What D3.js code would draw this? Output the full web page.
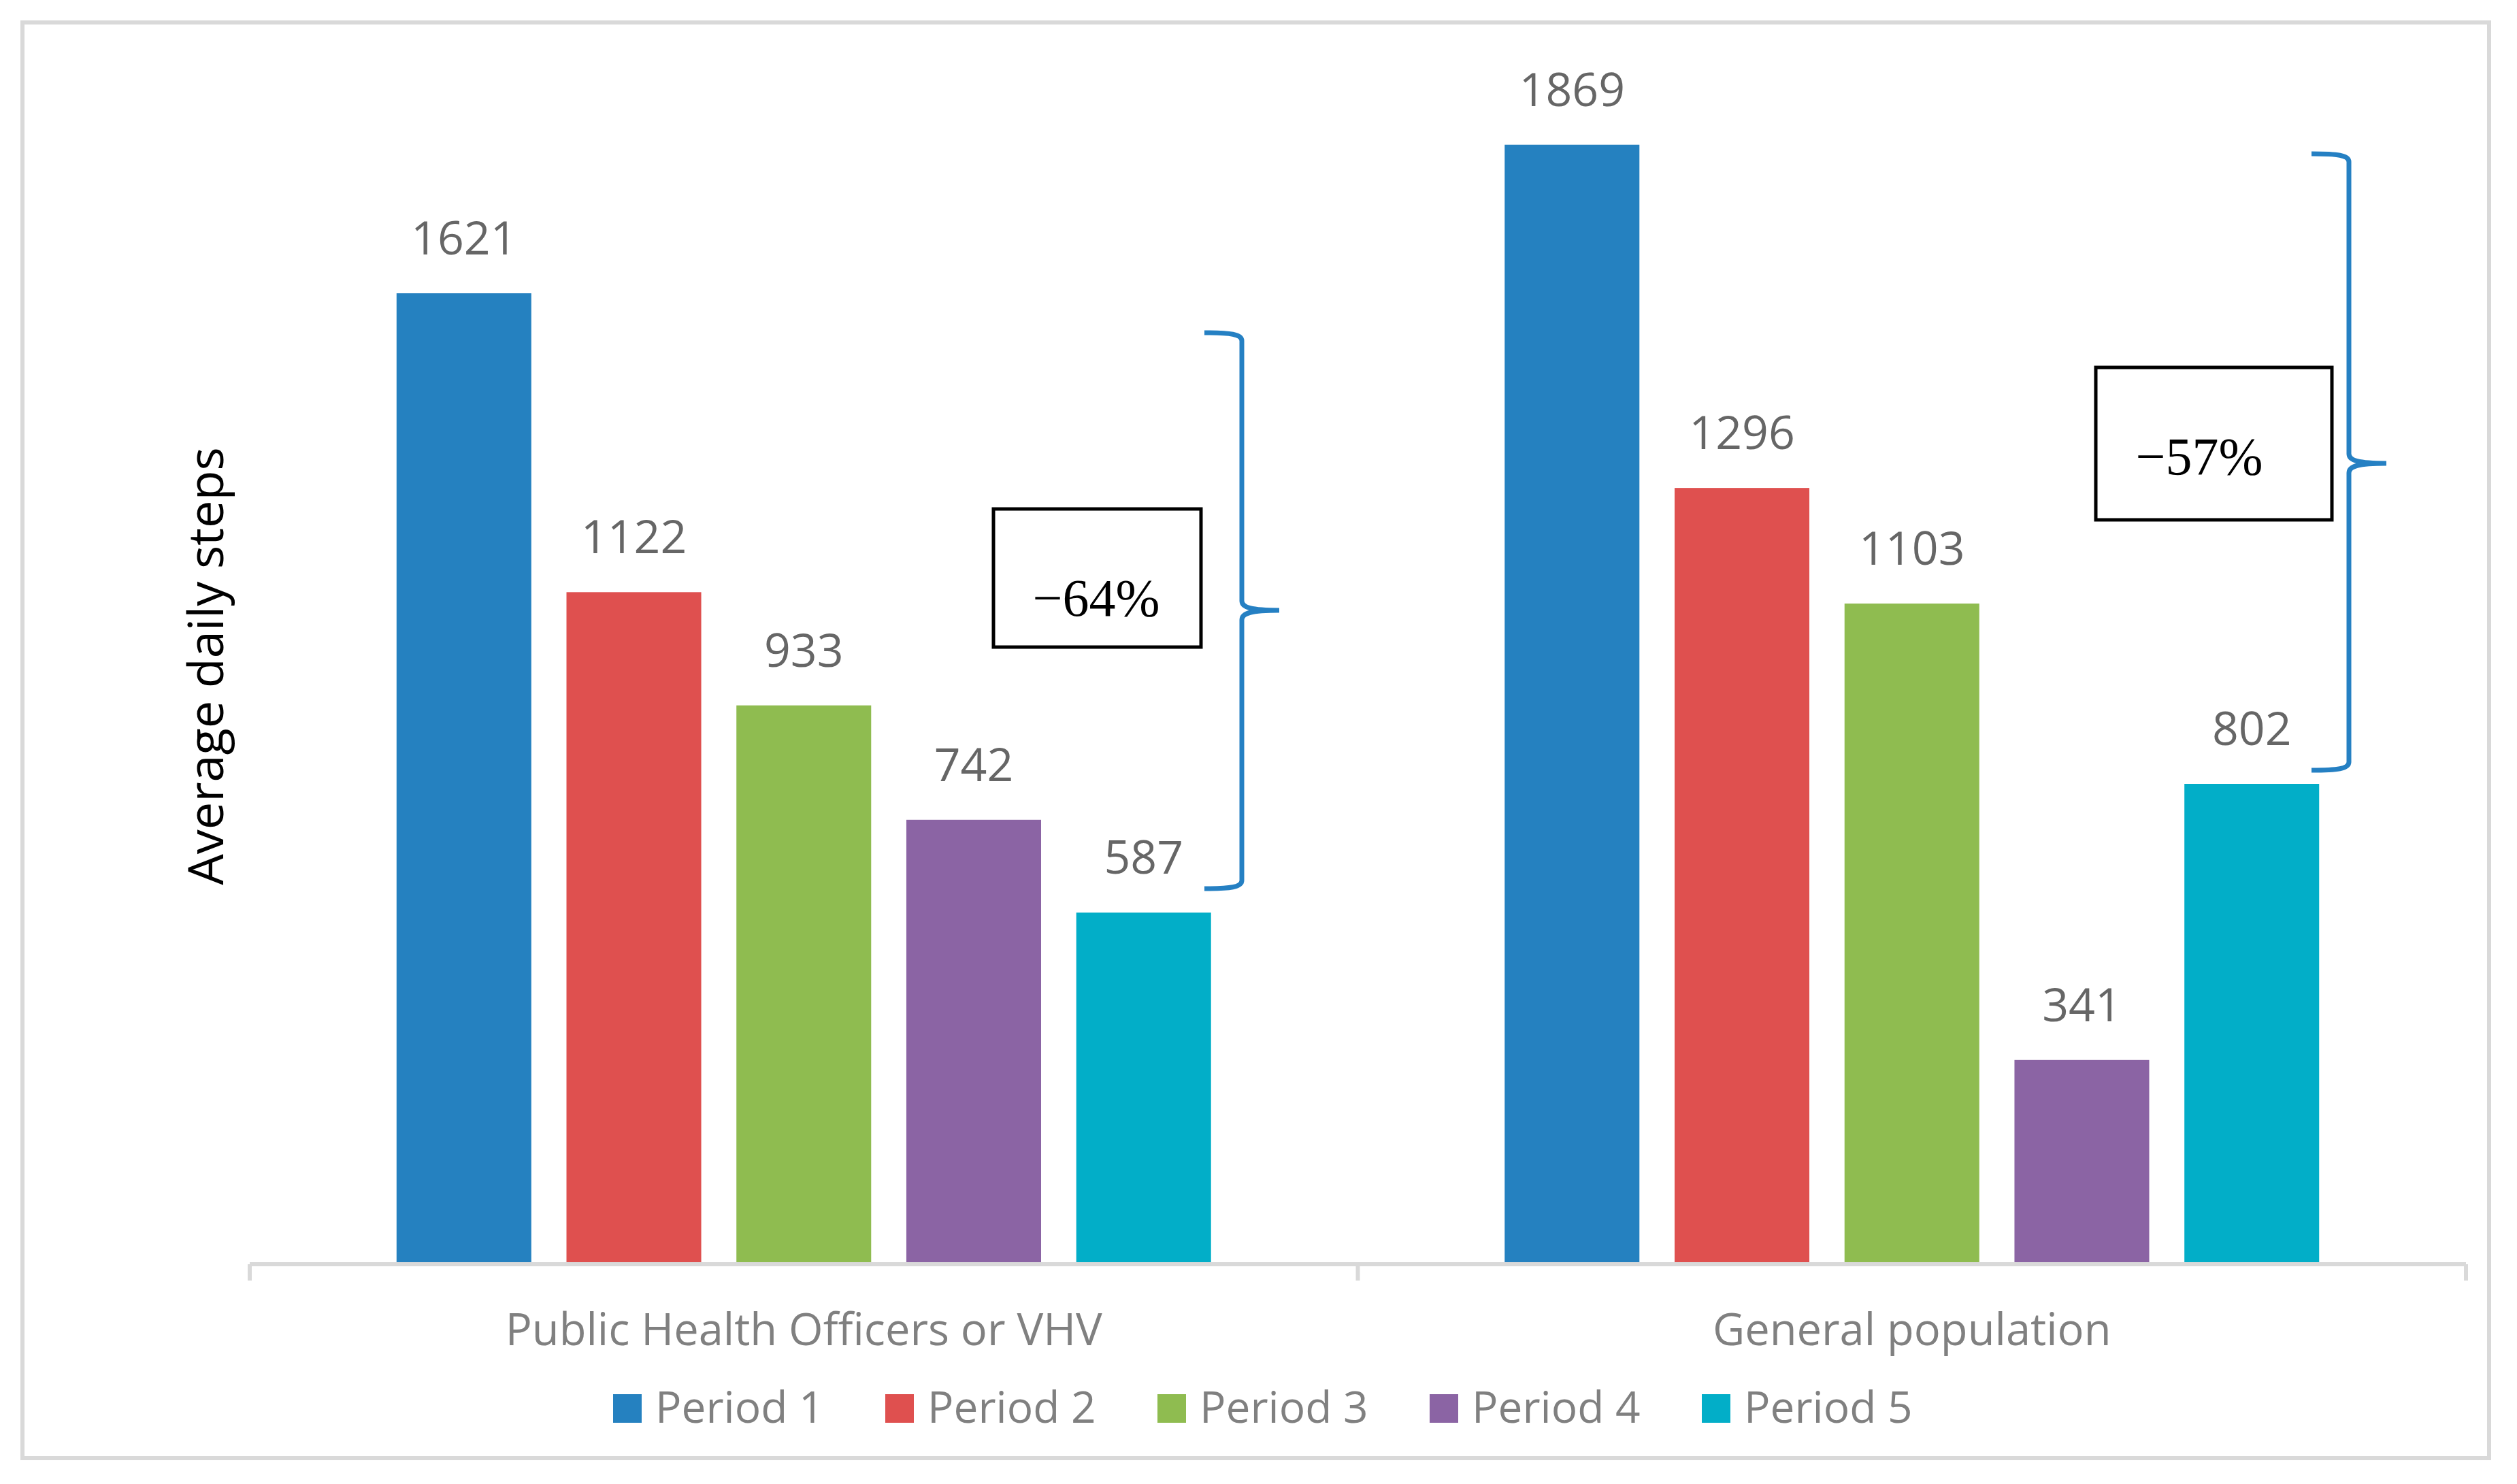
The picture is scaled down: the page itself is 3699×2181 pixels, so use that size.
<!DOCTYPE html>
<html>
<head>
<meta charset="utf-8">
<script src="https://cdn.jsdelivr.net/npm/d3@7"></script>
<style>
  html, body { margin: 0; padding: 0; background: #fff; }
  svg { display: block; }
</style>
</head>
<body>
<div id="vis"></div>
<script>
// data
const groups = ["Public Health Officers or VHV", "General population"]
const periods = ["Period 1", "Period 2", "Period 3", "Period 4", "Period 5"]
const healthOfficers = [1621, 1122, 933, 742, 587]
const generalPop = [1869, 1296, 1103, 341, 802]
const changeLabels = ["\u221264%", "\u221257%"]
const colors = ["#2581c0", "#df504f", "#8fbc50", "#8b64a4", "#02aec8"]

const W = 3699, H = 2181

let svg = d3.select("#vis").append("svg")
    .attr("width", W)
    .attr("height", H)
    .attr("viewBox", `0 0 ${W} ${H}`)

// outer frame
svg.append("rect")
    .attr("x", 33).attr("y", 33)
    .attr("width", 3625).attr("height", 2110)
    .attr("fill", "#fff")
    .attr("stroke", "#d9d9d9")
    .attr("stroke-width", 6)

let x = d3.scaleBand().domain(groups).range([367, 3624])
let xi = d3.scaleBand().domain(periods).range([0, x.bandwidth()])
    .paddingInner(0.207).paddingOuter(0.864)
let y = d3.scaleLinear().domain([0, 2000]).range([1858, 97.4])

let rows = groups.map((g, gi) => ({
    group: g,
    values: (gi === 0 ? healthOfficers : generalPop).map((v, i) => ({ period: periods[i], value: v, color: colors[i] }))
}))

let g = svg.selectAll("g.group")
    .data(rows)
    .join("g")
    .attr("class", "group")
    .attr("transform", d => `translate(${x(d.group)},0)`)

g.selectAll("rect")
    .data(d => d.values)
    .join("rect")
    .attr("x", d => xi(d.period))
    .attr("y", d => y(d.value))
    .attr("width", xi.bandwidth())
    .attr("height", d => y(0) - y(d.value))
    .attr("fill", d => d.color)

g.selectAll("text.val")
    .data(d => d.values)
    .join("text")
    .attr("class", "val")
    .attr("x", d => xi(d.period) + xi.bandwidth() / 2)
    .attr("y", d => y(d.value) - 57)
    .attr("text-anchor", "middle")
    .attr("font-family", "Open Sans")
    .attr("font-size", 68)
    .attr("fill", "#666666")
    .text(d => d.value)

// category axis
let axis = svg.append("g")
    .attr("stroke", "#d9d9d9")
    .attr("stroke-width", 6)
axis.append("line")
    .attr("x1", x.range()[0]).attr("x2", x.range()[1])
    .attr("y1", y(0)).attr("y2", y(0))
let tickX = groups.map(d => x(d)).concat([x.range()[1]])
axis.selectAll("line.tick")
    .data(tickX)
    .join("line")
    .attr("class", "tick")
    .attr("x1", d => d).attr("x2", d => d)
    .attr("y1", y(0)).attr("y2", y(0) + 24)

svg.selectAll("text.cat")
    .data(groups)
    .join("text")
    .attr("class", "cat")
    .attr("x", d => x(d) + x.bandwidth() / 2)
    .attr("y", 1977)
    .attr("text-anchor", "middle")
    .attr("font-family", "Open Sans")
    .attr("font-size", 65)
    .attr("fill", "#808080")
    .text(d => d)

// y title
svg.append("text")
    .attr("transform", "translate(328,979) rotate(-90)")
    .attr("text-anchor", "middle")
    .attr("font-family", "Open Sans")
    .attr("font-size", 72)
    .attr("fill", "#000")
    .text("Average daily steps")

// legend
let leg = svg.selectAll("g.leg")
    .data(periods)
    .join("g")
    .attr("class", "leg")
    .attr("transform", (d, i) => `translate(${901 + i * 400},2091)`)
leg.append("rect")
    .attr("x", 0).attr("y", -42)
    .attr("width", 42).attr("height", 42)
    .attr("fill", (d, i) => colors[i])
leg.append("text")
    .attr("x", 62).attr("y", 0)
    .attr("font-family", "Open Sans")
    .attr("font-size", 64)
    .attr("fill", "#808080")
    .text(d => d)

// braces and change boxes
let notes = [
    { top: 489, bottom: 1306, mid: 897, xv: 1825, box: [1460, 748, 305, 203], tx: 1611 },
    { top: 226, bottom: 1132, mid: 681, xv: 3452, box: [3080, 540, 347, 224], tx: 3232 }
]

function brace(n) {
    let x0 = n.xv - 55, xt = n.xv + 55
    return `M ${x0} ${n.top}
        C ${x0 + 38} ${n.top} ${n.xv} ${n.top + 2} ${n.xv} ${n.top + 12}
        L ${n.xv} ${n.mid - 14}
        C ${n.xv} ${n.mid - 4} ${n.xv + 14} ${n.mid} ${xt} ${n.mid}
        C ${n.xv + 14} ${n.mid} ${n.xv} ${n.mid + 4} ${n.xv} ${n.mid + 14}
        L ${n.xv} ${n.bottom - 12}
        C ${n.xv} ${n.bottom - 2} ${x0 + 38} ${n.bottom} ${x0} ${n.bottom}`
}

svg.selectAll("path.brace")
    .data(notes)
    .join("path")
    .attr("class", "brace")
    .attr("d", brace)
    .attr("fill", "none")
    .attr("stroke", "#2580c3")
    .attr("stroke-width", 7)

svg.selectAll("rect.note")
    .data(notes)
    .join("rect")
    .attr("class", "note")
    .attr("x", d => d.box[0]).attr("y", d => d.box[1])
    .attr("width", d => d.box[2]).attr("height", d => d.box[3])
    .attr("fill", "#fff")
    .attr("stroke", "#000")
    .attr("stroke-width", 5)

svg.selectAll("text.note")
    .data(notes)
    .join("text")
    .attr("class", "note")
    .attr("x", d => d.tx)
    .attr("y", d => d.box[1] + 157)
    .attr("text-anchor", "middle")
    .attr("font-family", "'Liberation Serif', 'Times New Roman', serif")
    .attr("font-size", 78)
    .attr("fill", "#000")
    .text((d, i) => changeLabels[i])
</script>
</body>
</html>
